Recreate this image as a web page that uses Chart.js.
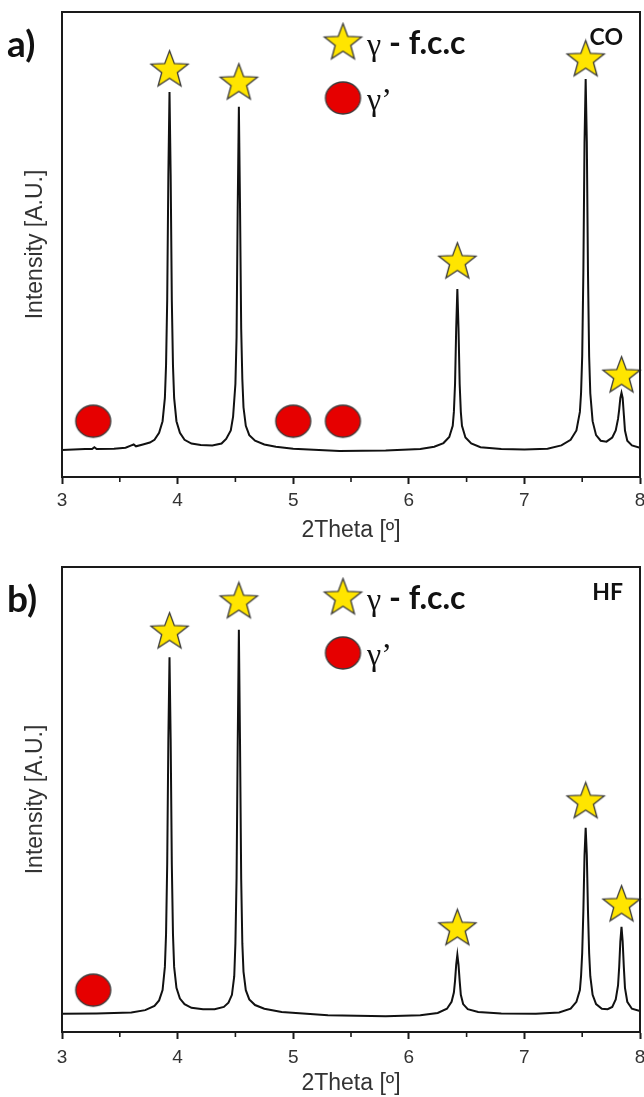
<!DOCTYPE html>
<html><head><meta charset="utf-8">
<script src="https://cdn.jsdelivr.net/npm/chart.js@4.4.1/dist/chart.umd.min.js"></script>
<style>
html,body{margin:0;padding:0;background:#fff;width:644px;height:1097px;overflow:hidden}
canvas{position:absolute;left:0}
#ca{top:0}
#cb{top:550px}
</style></head><body>
<canvas id="ca" width="644" height="550"></canvas>
<canvas id="cb" width="644" height="547"></canvas>
<script>
// ---------- data ----------
const xTicks = [3, 4, 5, 6, 7, 8];
const xMinorTicks = [3.5, 4.5, 5.5, 6.5, 7.5];

const topTheta = [3.00,3.20,3.26,3.28,3.30,3.45,3.55,3.60,3.62,3.64,3.70,3.76,3.80,3.84,3.87,3.89,3.90,3.91,3.92,3.93,3.94,3.95,3.96,3.97,3.99,4.02,4.06,4.12,4.20,4.30,4.38,4.42,4.46,4.48,4.50,4.51,4.52,4.53,4.54,4.55,4.56,4.57,4.59,4.62,4.67,4.75,4.85,5.00,5.40,5.80,6.10,6.22,6.30,6.35,6.38,6.39,6.40,6.41,6.42,6.43,6.44,6.45,6.46,6.49,6.54,6.62,6.80,7.00,7.20,7.32,7.40,7.45,7.48,7.49,7.50,7.51,7.52,7.53,7.54,7.55,7.56,7.57,7.59,7.62,7.66,7.71,7.76,7.79,7.81,7.82,7.83,7.84,7.85,7.86,7.87,7.89,7.93,8.00];
const topIntensity = [5.8,6.0,6.0,6.4,6.0,6.1,6.3,6.8,7.0,6.6,7.0,7.4,8.0,9.5,12,17,24,38,65,82.8,65,38,24,17,12,9.5,8,7.2,6.9,6.8,7.2,8.2,10,13,20,30,58,79.6,58,32,21,15,11,9,7.8,7.0,6.5,6.1,5.6,5.7,6.0,6.5,7.3,8.6,11,14,20,32,40.4,32,20,14,11,8.5,7.2,6.4,6.0,5.9,6.1,6.8,8.0,10,14,18,26,44,72,85.6,72,44,26,18,12,9,7.8,7.6,8.5,10,12.5,14.5,17,18.1,17,13.5,10,7.8,6.8,6.3];

const botTheta = [3.00,3.30,3.60,3.72,3.80,3.84,3.87,3.89,3.90,3.91,3.92,3.93,3.94,3.95,3.96,3.97,3.99,4.02,4.06,4.12,4.22,4.32,4.40,4.44,4.47,4.49,4.50,4.51,4.52,4.53,4.54,4.55,4.56,4.57,4.59,4.62,4.67,4.75,4.90,5.30,5.80,6.10,6.25,6.33,6.37,6.39,6.40,6.41,6.42,6.43,6.44,6.45,6.47,6.51,6.60,6.80,7.10,7.30,7.40,7.45,7.48,7.49,7.50,7.51,7.52,7.53,7.54,7.55,7.56,7.57,7.59,7.62,7.67,7.72,7.76,7.79,7.81,7.82,7.83,7.84,7.85,7.86,7.87,7.89,7.93,8.00];
const botIntensity = [3.9,4.0,4.2,4.7,5.6,6.8,9,14,21,36,63,80.6,63,36,21,14,9.5,7.2,6,5.2,4.9,4.9,5.4,6.3,8,12,19,33,62,86.5,62,33,19,13,9,7,5.8,5.0,4.3,3.6,3.4,3.6,4.1,5.0,6.5,8.5,11,14.5,16.6,14.5,11,8,6,4.9,4.3,4.0,3.9,4.2,5.0,6.5,9,12,17,26,38,43.9,38,26,17,12,8,6,5.0,4.9,5.4,7,10,14,19.5,22.6,19.5,14,9.5,6.5,5,4.5];

const topStarTheta = [3.93, 4.53, 6.42, 7.53, 7.84];
const topStarY = [87.5, 84.7, 46.2, 89.7, 21.7];
const topCircleTheta = [3.27, 5.00, 5.43];
const topCircleY = [12.0, 12.0, 12.0];

const botStarTheta = [3.93, 4.53, 6.42, 7.53, 7.84];
const botStarY = [86.0, 92.5, 22.2, 49.5, 27.3];
const botCircleTheta = [3.27];
const botCircleY = [9.0];

const legendLabels = ['γ', ' - f.c.c', 'γ’'];
const panelLetters = ['a)', 'b)'];
const sampleTags = ['CO', 'HF'];
const xTitle = '2Theta [º]';
const yTitle = 'Intensity [A.U.]';

// ---------- marker images ----------
function makeStar(R, r) {
  const s = Math.ceil(2 * R + 4);
  const c = document.createElement('canvas');
  c.width = s; c.height = s;
  const g = c.getContext('2d');
  g.translate(s / 2, s / 2);
  g.beginPath();
  for (let i = 0; i < 10; i++) {
    const rad = i % 2 ? r : R;
    const a = -Math.PI / 2 + i * Math.PI / 5;
    g.lineTo(rad * Math.cos(a), rad * Math.sin(a));
  }
  g.closePath();
  g.fillStyle = '#FFE500';
  g.fill();
  g.lineWidth = 1.3;
  g.strokeStyle = '#3a3a3a';
  g.stroke();
  return c;
}
function makeCircle(rx, ry) {
  const w = Math.ceil(2 * rx + 4), h = Math.ceil(2 * ry + 4);
  const c = document.createElement('canvas');
  c.width = w; c.height = h;
  const g = c.getContext('2d');
  g.beginPath();
  g.ellipse(w / 2, h / 2, rx, ry, 0, 0, Math.PI * 2);
  g.fillStyle = '#E60000';
  g.fill();
  g.lineWidth = 1.3;
  g.strokeStyle = '#3a3a3a';
  g.stroke();
  return c;
}
const starImg = makeStar(19.5, 8.2);
const circleImg = makeCircle(17.5, 16);

const pts = (xs, ys) => xs.map((x, i) => ({ x: x, y: ys[i] }));

// ---------- decoration plugin ----------
const deco = {
  id: 'deco',
  afterDraw(chart, args, o) {
    const ctx = chart.ctx;
    const a = chart.chartArea;
    const xs = chart.scales.x;
    ctx.save();
    // frame
    ctx.strokeStyle = '#1a1a1a';
    ctx.lineWidth = 2;
    ctx.strokeRect(a.left, a.top, a.right - a.left, a.bottom - a.top);
    // minor ticks
    ctx.lineWidth = 1.6;
    xMinorTicks.forEach(v => {
      const px = xs.getPixelForValue(v);
      ctx.beginPath();
      ctx.moveTo(px, a.bottom);
      ctx.lineTo(px, a.bottom + 5);
      ctx.stroke();
    });
    // panel letter
    ctx.fillStyle = '#111';
    ctx.textBaseline = 'middle';
    ctx.textAlign = 'left';
    ctx.font = 'bold 37px Lato, "Open Sans", sans-serif';
    ctx.fillText(o.letter, 7, a.top + 33);
    // sample tag
    ctx.font = 'bold 23px Lato, "Open Sans", sans-serif';
    ctx.textAlign = 'right';
    ctx.fillText(o.tag, 623, a.top + 26);
    // legend
    const lx = 343;
    ctx.drawImage(starImg, lx - starImg.width / 2, a.top + 31 - starImg.height / 2);
    ctx.drawImage(circleImg, lx - circleImg.width / 2, a.top + 86 - circleImg.height / 2);
    ctx.textAlign = 'left';
    ctx.font = '32px "Liberation Serif", serif';
    ctx.fillText(legendLabels[0], 367, a.top + 35);
    const gw = ctx.measureText(legendLabels[0]).width;
    ctx.font = 'bold 32px Lato, "Open Sans", sans-serif';
    ctx.fillText(legendLabels[1], 367 + gw, a.top + 32);
    ctx.font = '32px "Liberation Serif", serif';
    ctx.fillText(legendLabels[2], 367, a.top + 90);
    ctx.restore();
  }
};

function makeChart(id, theta, inten, sX, sY, cX, cY, letter, tag, geo) {
  return new Chart(document.getElementById(id), {
    type: 'line',
    data: {
      datasets: [
        { data: pts(sX, sY), showLine: false, pointStyle: starImg, pointRadius: 19, clip: false },
        { data: pts(cX, cY), showLine: false, pointStyle: circleImg, pointRadius: 17, clip: false },
        { data: pts(theta, inten), borderColor: '#111', borderWidth: 2, pointRadius: 0, tension: 0, fill: false }
      ]
    },
    options: {
      responsive: false,
      animation: false,
      events: [],
      layout: { autoPadding: false, padding: { top: geo.top, right: 4, left: 0, bottom: 0 } },
      plugins: { legend: { display: false }, tooltip: { enabled: false }, deco: { letter: letter, tag: tag } },
      scales: {
        x: {
          type: 'linear', min: 3, max: 8,
          afterBuildTicks: s => { s.ticks = xTicks.map(v => ({ value: v })); },
          ticks: { color: '#333', font: { family: 'Liberation Sans, Arial, sans-serif', size: 19 }, padding: geo.tickPad, maxRotation: 0 },
          grid: { drawOnChartArea: false, drawTicks: true, tickLength: 7, tickWidth: 2, tickColor: '#1a1a1a' },
          border: { display: true, color: '#1a1a1a', width: 2 },
          title: { display: true, text: xTitle, color: '#333', font: { family: 'Liberation Sans, Arial, sans-serif', size: 23 }, padding: { top: 0, bottom: geo.titlePad } },
          afterFit: s => { s.height = geo.xh; s.paddingLeft = 0; s.paddingRight = 0; }
        },
        y: {
          min: 0, max: 100,
          ticks: { display: false },
          grid: { display: false, drawTicks: false },
          border: { display: true, color: '#1a1a1a', width: 2 },
          title: { display: true, text: yTitle, color: '#333', font: { family: 'Liberation Sans, Arial, sans-serif', size: 23 }, padding: { top: 22, bottom: 0 } },
          afterFit: s => { s.width = 62; }
        }
      }
    },
    plugins: [deco]
  });
}

makeChart('ca', topTheta, topIntensity, topStarTheta, topStarY, topCircleTheta, topCircleY, panelLetters[0], sampleTags[0],
  { top: 12, xh: 73, tickPad: 5, titlePad: 6 });
makeChart('cb', botTheta, botIntensity, botStarTheta, botStarY, botCircleTheta, botCircleY, panelLetters[1], sampleTags[1],
  { top: 17, xh: 65, tickPad: 7, titlePad: 0 });
</script>
</body></html>
